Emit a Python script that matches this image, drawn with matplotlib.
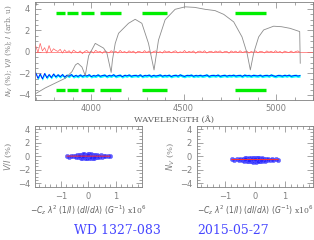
import numpy as np
import matplotlib
matplotlib.use("Agg")
import matplotlib.pyplot as plt
from matplotlib.ticker import MultipleLocator

# ---------------- data ----------------
spec_wave = [3697, 3751, 3805, 3859, 3896, 3915, 3928, 3950, 3968, 3986, 4022, 4067, 4085, 4108,
             4115, 4130, 4148, 4202, 4238, 4274, 4310, 4340, 4364, 4400, 4454, 4508, 4560, 4616,
             4670, 4717, 4771, 4816, 4843, 4861, 4879, 4906, 4933, 4987, 5030, 5076, 5128, 5131]
spec_flux = [-3.9, -3.35, -2.9, -2.45, -1.83, -1.2, -1.05, -1.4, -2.2, -0.36, 0.8, 0.36, -0.1, -1.9,
             -0.74, 0.8, 1.74, 2.67, 3.04, 2.67, 0.8, -1.67, 1.1, 3.0, 3.97, 4.2, 4.15, 3.97,
             3.85, 3.5, 2.8, 1.4, -0.1, -1.67, -0.1, 1.4, 2.05, 2.4, 2.35, 2.2, 1.9, -1.05]

noise_wave_range = (3700, 5130)
v_over_i = [
    0.55, -0.05, 0.8, 0.1, 0.4, -0.1, 0.6, 0.0, 0.3, 0.15,
    0.05, 0.25, -0.1, 0.2, -0.05, 0.12, -0.12, 0.18, 0.02, -0.08,
    0.1, -0.15, 0.05, 0.14, -0.06, 0.08, -0.1, 0.16, -0.02, 0.06,
    -0.12, 0.1, 0.0, -0.08, 0.12, -0.04, 0.07, -0.1, 0.15, -0.05,
    0.04, -0.09, 0.11, -0.03, 0.08, -0.12, 0.06, 0.02, -0.07, 0.13,
    -0.05, 0.09, -0.11, 0.04, 0.1, -0.06, 0.03, -0.1, 0.12, -0.02,
    0.07, -0.08, 0.05, 0.11, -0.09, 0.02, -0.05, 0.14, -0.07, 0.06,
    -0.03, 0.1, -0.12, 0.05, 0.08, -0.04, 0.12, -0.1, 0.03, 0.07,
    -0.06, 0.09, -0.02, 0.11, -0.08, 0.04, 0.06, -0.11, 0.1, -0.03,
    0.08, -0.07, 0.12, -0.05, 0.02, 0.09, -0.1, 0.05, -0.04, 0.11,
    -0.08, 0.06, 0.03, -0.09, 0.1, -0.02, 0.07, -0.06, 0.12, -0.04,
    0.05, -0.1, 0.08, 0.0, -0.05, 0.09, -0.07, 0.04, 0.1, -0.03]
null_nv = [
    -1.95, -2.45, -2.05, -2.5, -2.0, -2.4, -2.1, -2.38, -2.05, -2.32,
    -2.12, -2.3, -2.1, -2.34, -2.16, -2.26, -2.1, -2.3, -2.18, -2.28,
    -2.14, -2.27, -2.17, -2.24, -2.12, -2.29, -2.19, -2.25, -2.13, -2.26,
    -2.2, -2.15, -2.28, -2.18, -2.24, -2.12, -2.27, -2.2, -2.16, -2.3,
    -2.17, -2.23, -2.14, -2.26, -2.2, -2.18, -2.25, -2.13, -2.28, -2.19,
    -2.22, -2.15, -2.27, -2.18, -2.24, -2.2, -2.14, -2.26, -2.19, -2.23,
    -2.16, -2.28, -2.2, -2.17, -2.25, -2.13, -2.22, -2.27, -2.18, -2.21,
    -2.15, -2.26, -2.19, -2.23, -2.17, -2.24, -2.2, -2.14, -2.27, -2.2,
    -2.18, -2.23, -2.15, -2.26, -2.21, -2.17, -2.25, -2.19, -2.22, -2.16,
    -2.24, -2.2, -2.18, -2.27, -2.15, -2.22, -2.19, -2.25, -2.17, -2.21,
    -2.23, -2.16, -2.26, -2.2, -2.18, -2.24, -2.14, -2.22, -2.27, -2.19,
    -2.2, -2.25, -2.17, -2.23, -2.16, -2.26, -2.21, -2.18, -2.24, -2.2]
null_err = 0.13

green_ranges = [(3811, 3859), (3870, 3931), (3944, 4016), (4045, 4160), (4274, 4412), (4778, 4946)]
green_levels = [3.65, -3.55]

scat_x = [-0.78, -0.7, -0.62, -0.55, -0.5, -0.45, -0.42, -0.38, -0.35, -0.32,
          -0.3, -0.28, -0.25, -0.22, -0.2, -0.18, -0.15, -0.12, -0.1, -0.08,
          -0.06, -0.04, -0.02, 0.0, 0.02, 0.04, 0.06, 0.08, 0.1, 0.12,
          0.15, 0.18, 0.2, 0.22, 0.25, 0.28, 0.3, 0.33, 0.36, 0.4,
          0.45, 0.5, 0.56, 0.62, 0.7, 0.78,
          -0.3, -0.15, -0.05, 0.05, 0.15, 0.3, -0.25, -0.1, 0.1, 0.25,
          -0.2, 0.0, 0.2, -0.35]
scat_v = [0.02, -0.05, 0.06, -0.03, 0.1, -0.12, 0.15, -0.18, 0.2, -0.1,
          0.22, -0.25, 0.18, -0.2, 0.28, -0.15, 0.3, -0.28, 0.12, -0.3,
          0.25, -0.22, 0.32, -0.05, 0.3, -0.32, 0.2, -0.25, 0.28, -0.18,
          0.24, -0.2, 0.15, -0.26, 0.2, -0.12, 0.18, -0.14, 0.1, -0.08,
          0.12, -0.06, 0.05, -0.04, 0.03, 0.0,
          0.05, -0.08, 0.12, -0.1, 0.08, -0.02, -0.05, 0.02, -0.15, 0.1,
          0.0, 0.15, -0.1, 0.06]
scat_n = [-0.48, -0.55, -0.44, -0.53, -0.4, -0.62, -0.36, -0.66, -0.3, -0.6,
          -0.28, -0.72, -0.34, -0.7, -0.25, -0.65, -0.22, -0.78, -0.38, -0.8,
          -0.26, -0.72, -0.2, -0.55, -0.22, -0.8, -0.3, -0.75, -0.24, -0.68,
          -0.28, -0.7, -0.35, -0.74, -0.3, -0.62, -0.34, -0.64, -0.4, -0.58,
          -0.38, -0.56, -0.45, -0.54, -0.47, -0.5,
          -0.45, -0.58, -0.38, -0.6, -0.42, -0.52, -0.55, -0.48, -0.65, -0.4,
          -0.5, -0.35, -0.6, -0.44]

star_name = "WD 1327-083"
obs_date = "2015-05-27"

# ---------------- style ----------------
W, H = 314, 240
fig = plt.figure(figsize=(W / 100, H / 100), dpi=100)
GRAY = "#808080"
SERIF = "DejaVu Serif"


def style_axes(ax):
    for s in ax.spines.values():
        s.set_color(GRAY)
        s.set_linewidth(0.6)
    ax.tick_params(which="both", direction="in", top=True, right=True,
                   colors=GRAY, labelsize=6, width=0.5)
    ax.tick_params(which="major", length=4)
    ax.tick_params(which="minor", length=2)
    for lab in ax.get_xticklabels() + ax.get_yticklabels():
        lab.set_color(GRAY)


def px_axes(l, t, r, b):
    return fig.add_axes([l / W, 1 - b / H, (r - l) / W, (b - t) / H])


# ---------------- top panel ----------------
ax = px_axes(35, 2, 313, 99.5)
nw = np.linspace(noise_wave_range[0], noise_wave_range[1], len(v_over_i))
nv = np.array(null_nv)
ax.fill_between(nw, nv - null_err, nv + null_err, color="#00ffff", lw=0, zorder=1)
ax.plot(nw, nv, color="#0000ff", lw=0.6, zorder=2)
ax.axhline(0, color="#ff6060", lw=0.5, zorder=2)
ax.plot(nw, v_over_i, color="#ff6060", lw=0.5, zorder=3)
ax.plot(spec_wave, spec_flux, color="#8c8c8c", lw=0.6, zorder=4)
for lvl in green_levels:
    for a, b in green_ranges:
        ax.plot([a, b], [lvl, lvl], color="#00ee00", lw=2.4, solid_capstyle="butt", zorder=5)
ax.set_xlim(3696, 5200)
ax.set_ylim(-4.42, 4.65)
ax.xaxis.set_major_locator(MultipleLocator(500))
ax.xaxis.set_minor_locator(MultipleLocator(100))
ax.yaxis.set_major_locator(MultipleLocator(2))
ax.yaxis.set_minor_locator(MultipleLocator(0.5))
style_axes(ax)
ax.set_xlabel("WAVELENGTH (Å)", family=SERIF, fontsize=6, color="#606060", labelpad=2)
ax.set_ylabel(r"$N_V$ (%); $V/I$ (%); $I$ (arb. u)", family=SERIF, fontsize=5.3,
              color=GRAY, labelpad=3)

# ---------------- bottom panels ----------------
xlab = r"$-C_z\ \lambda^2\ (1/I)\ (dI/d\lambda)\ (G^{-1})\ $x10$^6$"
panels = [((35, 125.7, 141.7, 186.7), scat_v, r"$V/I$ (%)"),
          ((197, 125.7, 313, 186.7), scat_n, r"$N_V$ (%)")]
for (l, t, r, b), ys, ylab in panels:
    a2 = px_axes(l, t, r, b)
    a2.plot(scat_x, ys, "o", ms=3.2, color="#2020ff", alpha=0.7, mec="#6060ff", mew=0.4, zorder=2)
    k, c = np.polyfit(scat_x, ys, 1)
    xf = np.array([min(scat_x), max(scat_x)])
    a2.plot(xf, k * xf + c, color="#ff3030", lw=0.7, zorder=3)
    a2.set_xlim(-1.95, 1.95)
    a2.set_ylim(-4.5, 4.5)
    a2.xaxis.set_major_locator(MultipleLocator(1))
    a2.xaxis.set_minor_locator(MultipleLocator(0.2))
    a2.yaxis.set_major_locator(MultipleLocator(2))
    a2.yaxis.set_minor_locator(MultipleLocator(0.5))
    style_axes(a2)
    a2.set_xlabel(xlab, family=SERIF, fontsize=5.5, color="#606060", labelpad=2)
    a2.set_ylabel(ylab, family=SERIF, fontsize=6, color=GRAY, labelpad=3)

fig.text(74 / W, 1 - 231 / H, star_name, family=SERIF, fontsize=9, color="#4646ff",
         ha="left", va="center")
fig.text(197 / W, 1 - 231 / H, obs_date, family=SERIF, fontsize=9, color="#4646ff",
         ha="left", va="center")

fig.savefig("out.png", dpi=100)
